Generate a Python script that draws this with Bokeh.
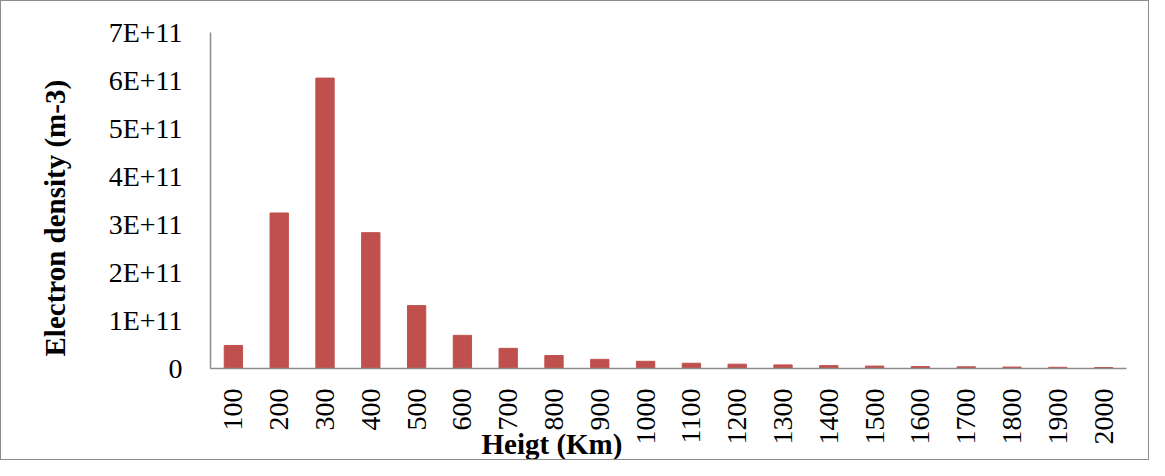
import math
from bokeh.plotting import figure
from bokeh.models import FactorRange, Range1d, FixedTicker, Title
from bokeh.embed import file_html
from bokeh.resources import INLINE

heights = ["100", "200", "300", "400", "500", "600", "700", "800", "900", "1000",
           "1100", "1200", "1300", "1400", "1500", "1600", "1700", "1800", "1900", "2000"]
density = [4.8e10, 3.24e11, 6.05e11, 2.83e11, 1.31e11, 6.9e10, 4.2e10, 2.7e10, 1.9e10, 1.5e10,
           1.1e10, 9.0e9, 7.5e9, 6.0e9, 5.0e9, 4.0e9, 3.5e9, 3.0e9, 2.5e9, 2.0e9]
y_ticks = [0, 1e11, 2e11, 3e11, 4e11, 5e11, 6e11, 7e11]
y_tick_labels = ["0", "1E+11", "2E+11", "3E+11", "4E+11", "5E+11", "6E+11", "7E+11"]

FONT = "Liberation Serif"

p = figure(width=1149, height=460, x_range=FactorRange(factors=heights, range_padding=0),
           y_range=Range1d(0, 7e11), output_backend="svg", toolbar_location=None,
           min_border_left=208, min_border_top=31, min_border_right=24, min_border_bottom=93)
p.vbar(x=heights, top=density, width=0.4, color="#c0504d")

p.xgrid.visible = False
p.ygrid.visible = False
p.outline_line_color = None
p.styles = {"border": "1.5px solid #8c8c8c"}

p.yaxis.ticker = FixedTicker(ticks=y_ticks)
p.yaxis.major_label_overrides = {t: l for t, l in zip(y_ticks, y_tick_labels)}
for ax in (p.xaxis[0], p.yaxis[0]):
    ax.axis_line_color = "#8c8c8c"
    ax.axis_line_width = 1.5
    ax.major_tick_line_color = None
    ax.minor_tick_line_color = None
    ax.major_tick_out = 0
    ax.major_tick_in = 0
    ax.major_label_text_font = FONT
    ax.major_label_text_font_size = "28px"
    ax.major_label_text_color = "black"
p.yaxis.major_label_standoff = 28
p.xaxis.major_label_standoff = 20
p.xaxis.major_label_orientation = math.pi / 2

p.add_layout(Title(text="Electron density (m-3)", align="left", offset=12, standoff=70,
                   text_font=FONT, text_font_style="bold", text_font_size="29px",
                   text_color="black"), "left")
p.add_layout(Title(text="Heigt (Km)", align="left", offset=271, standoff=-40, vertical_align="top",
                   text_font=FONT, text_font_style="bold", text_font_size="29px",
                   text_color="black"), "below")

open("out.html", "w").write(file_html(p, INLINE))
